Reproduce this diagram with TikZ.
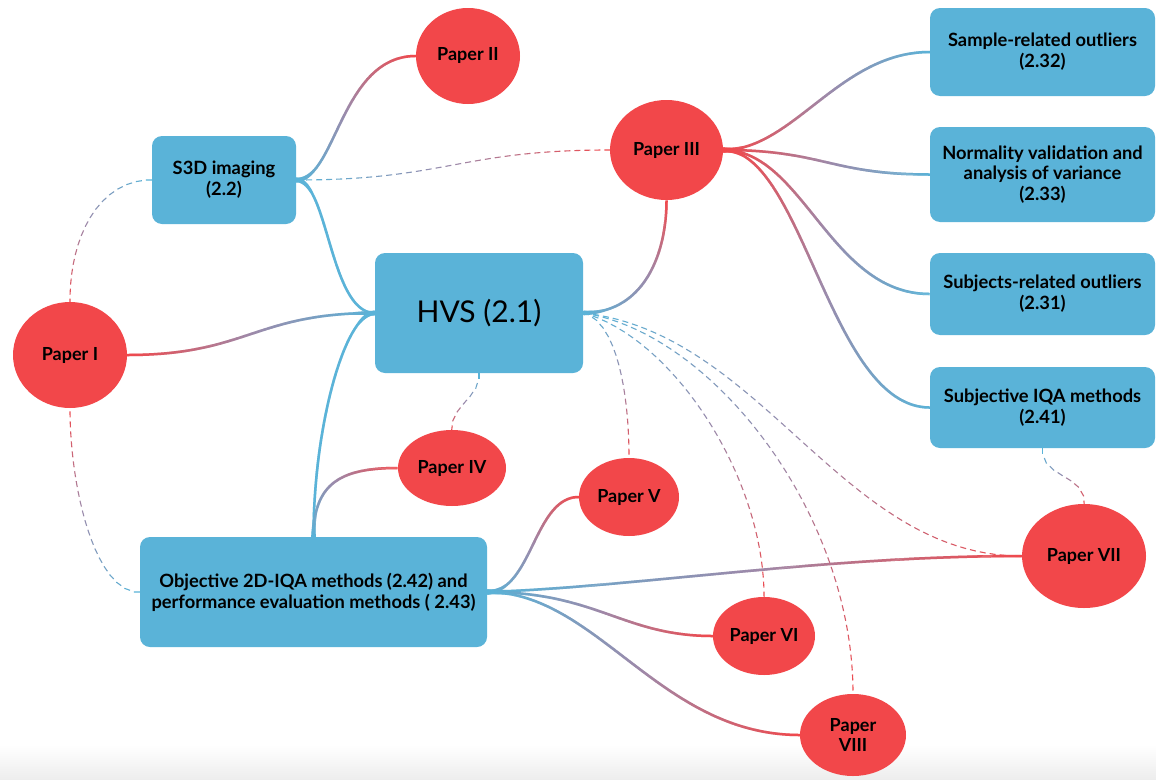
\documentclass[tikz,border=0pt]{standalone}
\usepackage{fontspec}
\setmainfont{Lato}
\usetikzlibrary{shapes.geometric,decorations.markings,calc}
\definecolor{boxblue}{RGB}{90,179,216}
\definecolor{paperred}{RGB}{242,71,74}
\definecolor{gmid}{RGB}{158,136,168}
\pgfdeclarelayer{bg}
\pgfsetlayers{bg,main}
\tikzset{
  box/.style={draw=none, fill=boxblue, rounded corners=10pt, align=center,
    font=\fontsize{18.3}{20.8}\selectfont\bfseries, inner sep=0pt},
  paper/.style={ellipse, fill=paperred, align=center,
    font=\fontsize{18}{20}\selectfont\bfseries, inner sep=0pt},
  gsolid/.style 2 args={postaction={decorate,decoration={markings,
      mark=between positions 0 and 1 step 1pt with {%
        \pgfmathsetmacro\gd{\pgfkeysvalueof{/pgf/decoration/mark info/distance from start}}%
        \pgfmathtruncatemacro\gf{(\gd/\pgfdecoratedpathlength)*100}%
        \pgfmathsetmacro\glw{2.5+2.2*max(0,1-\gd/22)}%
        \ifnum\gf<50 \pgfmathtruncatemacro\gg{2*\gf}\colorlet{segc}{gmid!\gg!#1}%
        \else \pgfmathtruncatemacro\gg{2*\gf-100}\colorlet{segc}{#2!\gg!gmid}\fi
        \draw[line width=\glw pt, color=segc] (-0.7pt,0pt) -- (0.7pt,0pt);}}}},
  bsolid/.style={postaction={decorate,decoration={markings,
      mark=between positions 0 and 1 step 1pt with {%
        \pgfmathsetmacro\gd{\pgfkeysvalueof{/pgf/decoration/mark info/distance from start}}%
        \pgfmathsetmacro\glw{2.5+2.2*max(0,1-\gd/22)}%
        \draw[line width=\glw pt, color=boxblue] (-0.7pt,0pt) -- (0.7pt,0pt);}}}},
  gdash/.style 2 args={postaction={decorate,decoration={markings,
      mark=between positions 0 and 1 step 10pt with {%
        \pgfmathtruncatemacro\gf{(\pgfkeysvalueof{/pgf/decoration/mark info/distance from start}/\pgfdecoratedpathlength)*100}%
        \ifnum\gf<50 \pgfmathtruncatemacro\gg{2*\gf}\colorlet{segc}{gmid!\gg!#1}%
        \else \pgfmathtruncatemacro\gg{2*\gf-100}\colorlet{segc}{#2!\gg!gmid}\fi
        \draw[line width=1.1pt, color=segc] (0pt,0pt) -- (6pt,0pt);}}}},
}
\begin{document}
\begin{tikzpicture}[x=1pt,y=-1pt]
\useasboundingbox (0,0) rectangle (1156,779);

% boxes
\node[box, minimum width=144pt, minimum height=88pt] (s3d) at (224,180) {S3D imaging\\(2.2)};
\node[box, minimum width=208pt, minimum height=120pt, font=\fontsize{30}{36}\selectfont] (hvs) at (479,313) {HVS (2.1)};
\node[box, minimum width=347pt, minimum height=110pt] (obj) at (313.5,592) {Objective 2D-IQA methods (2.42) and\\performance evaluation methods ( 2.43)};
\node[box, minimum width=225pt, minimum height=88pt] (samp) at (1042.5,52) {Sample-related outliers\\(2.32)};
\node[box, minimum width=225pt, minimum height=95pt] (norm) at (1042.5,174.5) {Normality validation and\\analysis of variance\\(2.33)};
\node[box, minimum width=225pt, minimum height=82pt] (subj) at (1042.5,294) {Subjects-related outliers\\(2.31)};
\node[box, minimum width=225pt, minimum height=81pt] (sqa) at (1042.5,407.5) {Subjective IQA methods\\(2.41)};

% papers
\node[paper, minimum width=114pt, minimum height=106pt] (p1) at (70,355) {Paper I};
\node[paper, minimum width=104pt, minimum height=96pt] (p2) at (468,56) {Paper II};
\node[paper, minimum width=113pt, minimum height=100pt] (p3) at (666.5,150) {Paper III};
\node[paper, minimum width=108pt, minimum height=76pt] (p4) at (452,468) {Paper IV};
\node[paper, minimum width=100pt, minimum height=78pt] (p5) at (629,497) {Paper V};
\node[paper, minimum width=102pt, minimum height=78pt] (p6) at (764,636) {Paper VI};
\node[paper, minimum width=124pt, minimum height=104pt] (p7) at (1084,556) {Paper VII};
\node[paper, minimum width=106pt, minimum height=82pt] (p8) at (853,735) {Paper\\VIII};

\begin{pgfonlayer}{bg}
\fill[white] (0,0) rectangle (1156,779);
\shade[top color=white, bottom color=black!7] (0,745) rectangle (1156,779);
% solid connectors
\path[gsolid={boxblue}{paperred}] (s3d.east) .. controls +(40,0) and +(-75,0) .. (p2.west);
\path[bsolid] (s3d.east) .. controls +(32,0) and +(-45,0) .. (hvs.west);
\path[gsolid={boxblue}{paperred}] (hvs.west) .. controls +(-120,0) and +(120,0) .. (p1.east);
\path[bsolid] (hvs.west) .. controls +(-30,0) and +(0,-110) .. (obj.north);
\path[gsolid={boxblue}{paperred}] (obj.north) .. controls +(0,-55) and +(-55,0) .. (p4.west);
\path[gsolid={boxblue}{paperred}] (hvs.east) .. controls +(60,0) and +(0,55) .. (p3.south);
\path[gsolid={paperred}{boxblue}] (p3.east) .. controls +(70,0) and +(-90,0) .. (samp.west);
\path[gsolid={paperred}{boxblue}] (p3.east) .. controls +(100,0) and +(-100,0) .. (norm.west);
\path[gsolid={paperred}{boxblue}] (p3.east) .. controls +(80,0) and +(-100,0) .. (subj.west);
\path[gsolid={paperred}{boxblue}] (p3.east) .. controls +(80,0) and +(-100,0) .. (sqa.west);
\path[gsolid={boxblue}{paperred}] (obj.east) .. controls +(45,0) and +(-45,0) .. (p5.west);
\path[gsolid={boxblue}{paperred}] (obj.east) .. controls +(150,-5) and +(-200,0) .. (p7.west);
\path[gsolid={boxblue}{paperred}] (obj.east) .. controls +(110,0) and +(-90,0) .. (p6.west);
\path[gsolid={boxblue}{paperred}] (obj.east) .. controls +(110,0) and +(-140,0) .. (p8.west);
% dashed connectors
\path[gdash={boxblue}{paperred}] (s3d.west) .. controls +(-50,0) and +(0,-70) .. (p1.north);
\path[gdash={boxblue}{paperred}] (obj.west) .. controls +(-45,0) and +(0,80) .. (p1.south);
\path[gdash={boxblue}{paperred}] (s3d.east) .. controls +(150,0) and +(-150,0) .. (p3.west);
\path[gdash={boxblue}{paperred}] (hvs.south) .. controls +(0,25) and +(0,-25) .. (p4.north);
\path[gdash={boxblue}{paperred}] (hvs.east) .. controls +(35,10) and +(0,-60) .. (p5.north);
\path[gdash={boxblue}{paperred}] (hvs.east) .. controls +(90,25) and +(0,-120) .. (p6.north);
\path[gdash={boxblue}{paperred}] (hvs.east) .. controls +(130,20) and +(0,-180) .. (p8.north);
\path[gdash={boxblue}{paperred}] (hvs.east) .. controls +(180,20) and +(-180,0) .. (p7.west);
\path[gdash={boxblue}{paperred}] (sqa.south) .. controls +(0,30) and +(0,-30) .. (p7.north);
\end{pgfonlayer}
\end{tikzpicture}
\end{document}
